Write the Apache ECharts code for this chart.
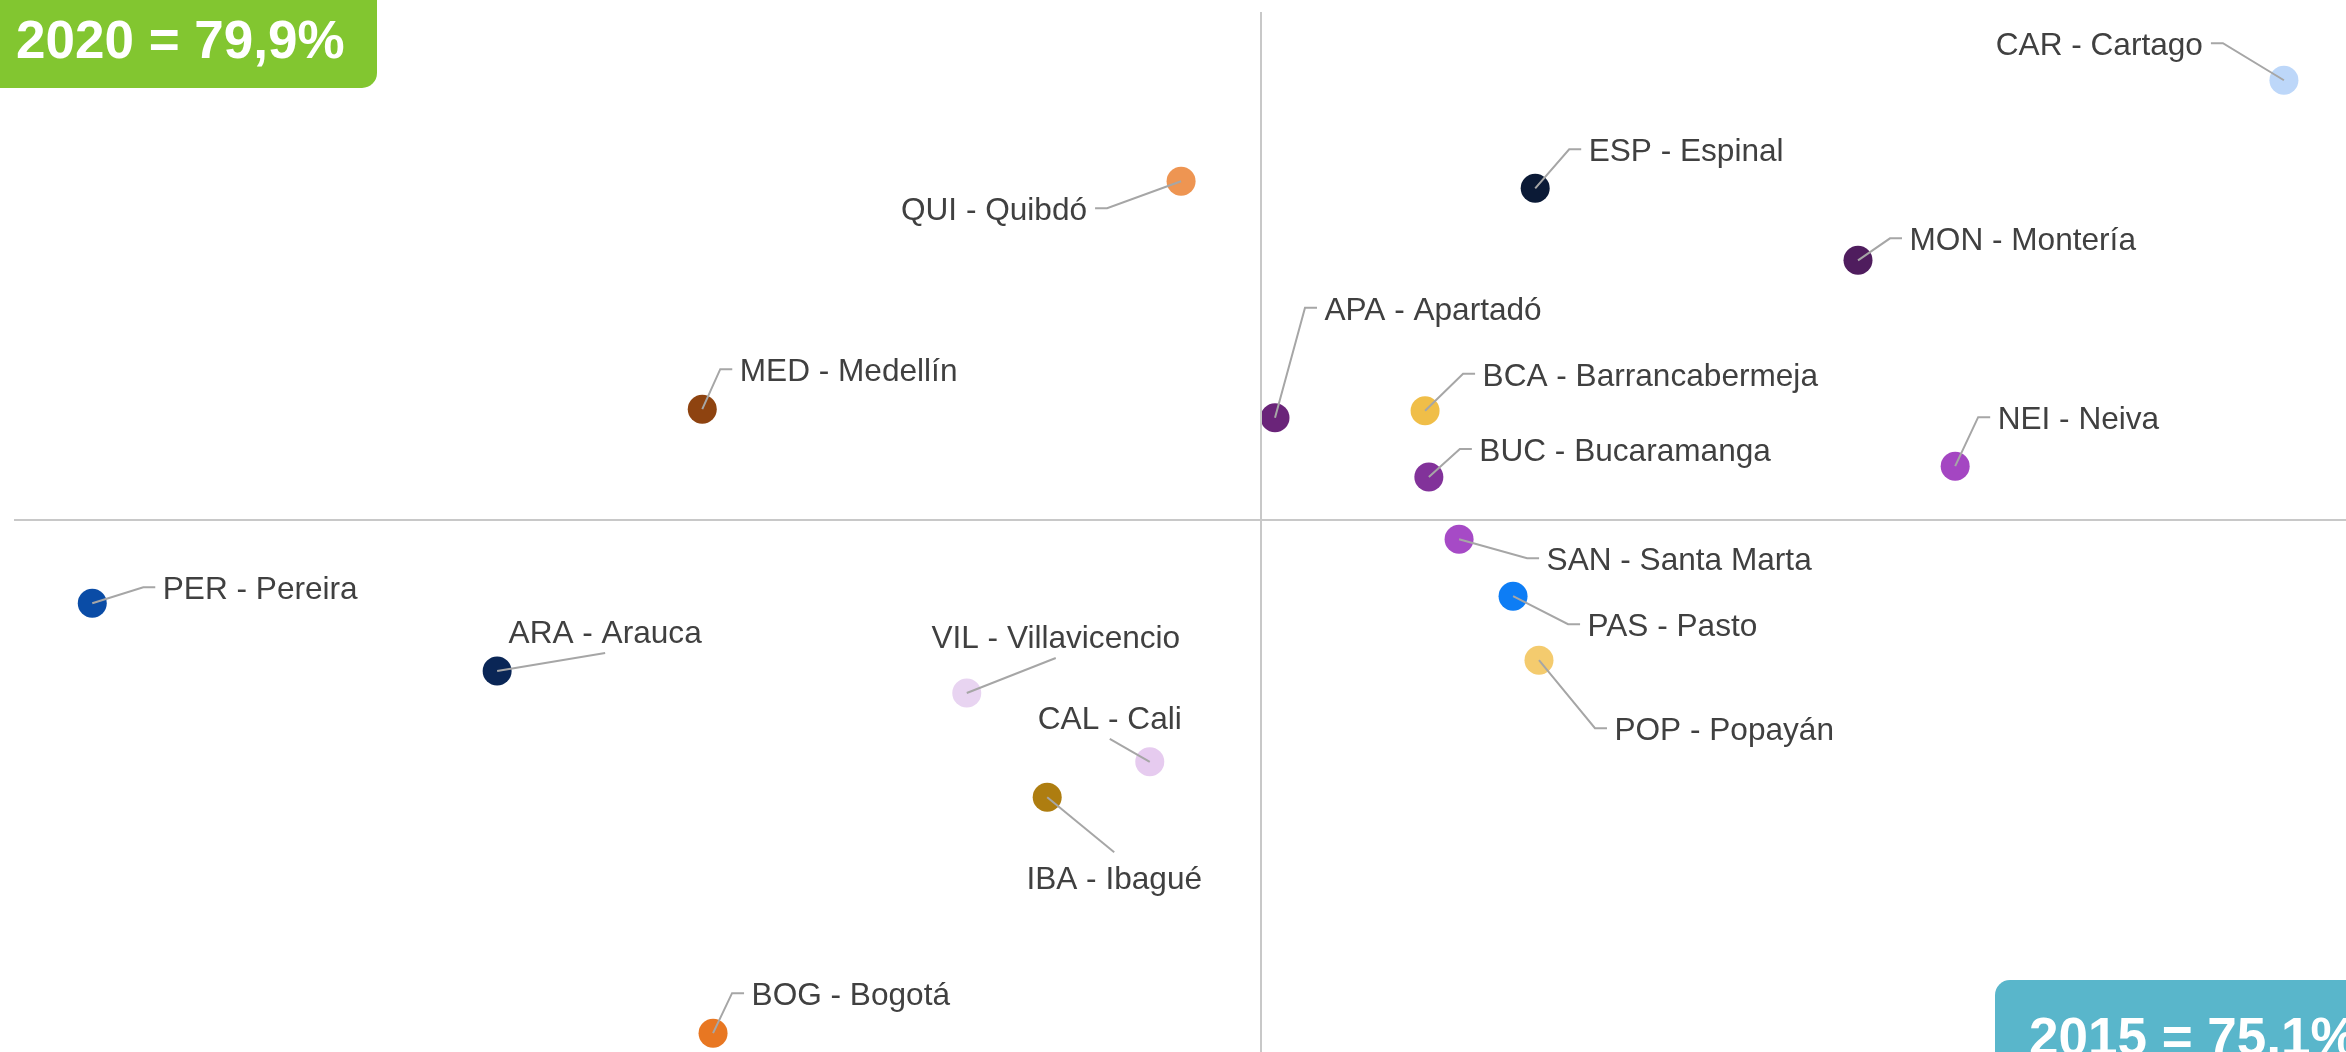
<!DOCTYPE html>
<html>
<head>
<meta charset="utf-8">
<title>2015 vs 2020</title>
<script src="https://cdn.jsdelivr.net/npm/echarts@6/dist/echarts.min.js"></script>
<style>
  html, body { margin: 0; padding: 0; background: #ffffff; }
  #chart { width: 2346px; height: 1052px; }
</style>
</head>
<body>
<div id="chart"></div>
<script>
// city codes and names
const codes = ['CAR', 'ESP', 'QUI', 'MON', 'APA', 'BCA', 'BUC', 'MED', 'NEI',
  'SAN', 'PAS', 'POP', 'PER', 'ARA', 'VIL', 'CAL', 'IBA', 'BOG']
const cities = ['Cartago', 'Espinal', 'Quibdó', 'Montería', 'Apartadó', 'Barrancabermeja',
  'Bucaramanga', 'Medellín', 'Neiva', 'Santa Marta', 'Pasto', 'Popayán', 'Pereira',
  'Arauca', 'Villavicencio', 'Cali', 'Ibagué', 'Bogotá']
// values (x = 2015, y = 2020)
const v2015 = [94.05, 80.18, 73.62, 86.16, 75.36, 78.14, 78.21, 64.75, 87.96,
  78.77, 79.77, 80.25, 53.45, 60.95, 69.65, 73.04, 71.14, 64.95]
const v2020 = [88.08, 86.07, 86.20, 84.73, 81.80, 81.93, 80.70, 81.96, 80.90,
  79.54, 78.48, 77.29, 78.35, 77.09, 76.68, 75.40, 74.74, 70.35]
const avg2015 = 75.1
const avg2020 = 79.9

// styles, kept apart from the data
const dotColors = ['#BDD7F9', '#0B1A36', '#EE9552', '#4F1D5E', '#6A2479', '#F0BE48',
  '#82329A', '#8E4310', '#A446C2', '#A64AC6', '#0D7DF5', '#F4CB6E', '#0A4CA6',
  '#0A2656', '#E8D4F1', '#E6CBEF', '#AE7D10', '#E87722']
// label placement: offset of leader bend from the dot, and side of the label it meets
const labelPlacement = [
  [-61, -37, 'R'], [34, -39, 'L'], [-74, 27, 'R'], [32, -22, 'L'], [30, -110, 'L'],
  [38, -37, 'L'], [31, -28, 'L'], [18, -40, 'L'], [23, -49, 'L'], [68, 19, 'L'],
  [55, 28, 'L'], [56, 68, 'L'], [51, -16, 'L'], [108, -18, 'B'], [89, -35, 'B'],
  [-40, -23, 'B'], [67, 55, 'T'], [19, -40, 'L']
]

const pct = v => v.toFixed(1).replace('.', ',') + '%'
const labelFont = '31.6px "Liberation Sans", Arial, sans-serif'
const boxFont = 'bold 53px "Liberation Sans", Arial, sans-serif'

const points = codes.map((c, i) => ({
  value: [v2015[i], v2020[i]],
  itemStyle: { color: dotColors[i], opacity: 1 }
}))

const chart = echarts.init(document.getElementById('chart'))
chart.setOption({
  animation: false,
  grid: { left: 14, right: 0, top: 12, bottom: 0 },
  xAxis: {
    type: 'value', min: 52, max: 95.2,
    show: false, splitLine: { show: false }
  },
  yAxis: {
    type: 'value', min: 70, max: 89.35,
    show: false, splitLine: { show: false }
  },
  graphic: [
    {
      type: 'rect', z: 10,
      shape: { x: 0, y: 0, width: 377, height: 88, r: [0, 0, 15, 0] },
      style: { fill: '#82C630' }
    },
    {
      type: 'text', z: 11, x: 16, y: 43,
      style: { text: '2020 = ' + pct(avg2020), font: boxFont, fill: '#ffffff', align: 'left', verticalAlign: 'middle' }
    },
    {
      type: 'rect', z: 10,
      shape: { x: 1995, y: 980, width: 400, height: 120, r: [15, 0, 0, 0] },
      style: { fill: '#59B6CB' }
    },
    {
      type: 'text', z: 11, x: 2029, y: 1040,
      style: { text: '2015 = ' + pct(avg2015), font: boxFont, fill: '#ffffff', align: 'left', verticalAlign: 'middle' }
    }
  ],
  series: [
    {
      type: 'scatter',
      z: 2,
      symbolSize: 29,
      itemStyle: { opacity: 1 },
      data: points,
      markLine: {
        silent: true,
        symbol: 'none',
        label: { show: false },
        lineStyle: { color: '#C8C8C8', width: 2, type: 'solid' },
        data: [{ xAxis: avg2015 }, { yAxis: avg2020 }]
      }
    },
    {
      // leader lines and labels
      type: 'custom',
      z: 3,
      silent: true,
      data: codes.map((c, i) => [v2015[i], v2020[i]]),
      encode: { x: 0, y: 1 },
      renderItem: function (params, api) {
        const i = params.dataIndex
        const p = api.coord([api.value(0), api.value(1)])
        const [dx, dy, side] = labelPlacement[i]
        const bx = p[0] + dx
        const by = p[1] + dy
        let pts, tx, ty, align
        if (side === 'L') {
          pts = [p, [bx, by], [bx + 12, by]]; tx = bx + 19.5; ty = by + 3; align = 'left'
        } else if (side === 'R') {
          pts = [p, [bx, by], [bx - 12, by]]; tx = bx - 20; ty = by + 3; align = 'right'
        } else if (side === 'B') {
          pts = [p, [bx, by]]; tx = bx; ty = by - 18.5; align = 'center'
        } else {
          pts = [p, [bx, by]]; tx = bx; ty = by + 28; align = 'center'
        }
        return {
          type: 'group',
          children: [
            {
              type: 'polyline',
              shape: { points: pts },
              style: { stroke: '#A6A6A6', lineWidth: 2, fill: null }
            },
            {
              type: 'text',
              style: {
                text: codes[i] + ' - ' + cities[i],
                x: tx, y: ty, align: align, verticalAlign: 'middle',
                font: labelFont, fill: '#404040'
              }
            }
          ]
        }
      }
    }
  ]
})
</script>
</body>
</html>
